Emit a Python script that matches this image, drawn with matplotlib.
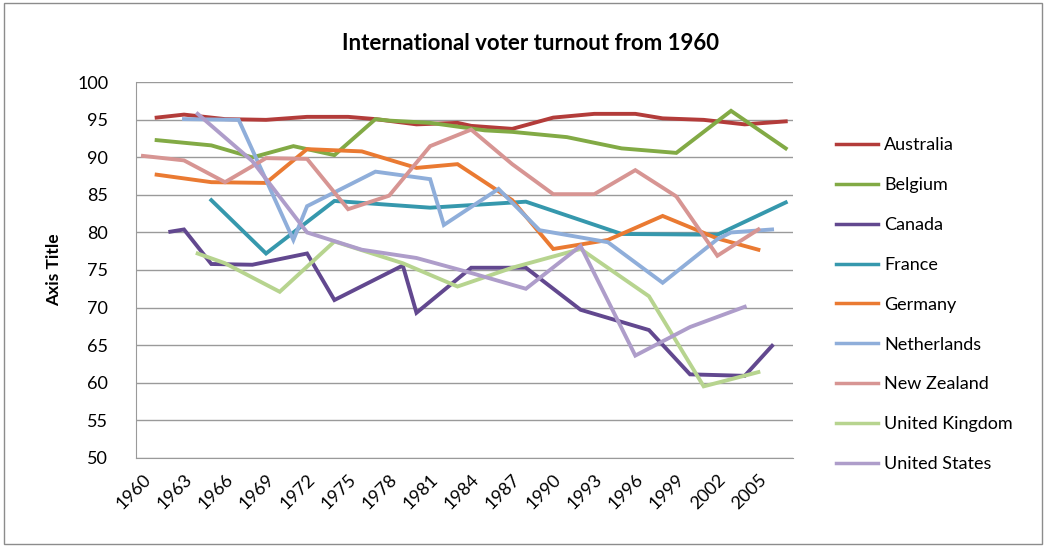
import matplotlib
matplotlib.use('Agg')
import matplotlib.pyplot as plt
from matplotlib.patches import Rectangle

plt.rcParams['font.family'] = ['Lato', 'DejaVu Sans']

# election years / turnout (%) per country
aus_years = [1961, 1963, 1966, 1969, 1972, 1974, 1975, 1977, 1980, 1983, 1984, 1987, 1990, 1993, 1996, 1998, 2001, 2004, 2007]
aus_vals = [95.3, 95.7, 95.1, 95.0, 95.4, 95.4, 95.4, 95.1, 94.4, 94.6, 94.2, 93.8, 95.3, 95.8, 95.8, 95.2, 95.0, 94.4, 94.8]

bel_years = [1961, 1965, 1968, 1971, 1974, 1977, 1978, 1981, 1985, 1987, 1991, 1995, 1999, 2003, 2007]
bel_vals = [92.3, 91.6, 90.0, 91.5, 90.3, 95.1, 94.9, 94.6, 93.6, 93.4, 92.7, 91.2, 90.6, 96.2, 91.2]

can_years = [1962, 1963, 1965, 1968, 1972, 1974, 1979, 1980, 1984, 1988, 1992, 1997, 2000, 2004, 2006]
can_vals = [80.1, 80.4, 75.8, 75.7, 77.2, 71.0, 75.6, 69.3, 75.3, 75.3, 69.7, 67.0, 61.1, 60.9, 64.9]

fra_years = [1965, 1969, 1974, 1981, 1988, 1995, 2002, 2007]
fra_vals = [84.3, 77.2, 84.2, 83.3, 84.1, 79.8, 79.7, 84.0]

ger_years = [1961, 1965, 1969, 1972, 1976, 1980, 1983, 1987, 1990, 1994, 1998, 2002, 2005]
ger_vals = [87.7, 86.7, 86.6, 91.1, 90.8, 88.6, 89.1, 84.3, 77.8, 79.0, 82.2, 79.2, 77.7]

ned_years = [1963, 1967, 1971, 1972, 1977, 1981, 1982, 1986, 1989, 1994, 1998, 2002, 2003, 2006]
ned_vals = [95.1, 95.0, 79.0, 83.5, 88.1, 87.1, 81.0, 85.8, 80.3, 78.7, 73.3, 79.1, 80.0, 80.4]

nzl_years = [1960, 1963, 1966, 1969, 1972, 1975, 1978, 1981, 1984, 1987, 1990, 1993, 1996, 1999, 2002, 2005]
nzl_vals = [90.2, 89.6, 86.7, 89.9, 89.8, 83.1, 84.9, 91.5, 93.7, 89.1, 85.1, 85.1, 88.3, 84.8, 76.9, 80.4]

gbr_years = [1964, 1966, 1970, 1974, 1979, 1983, 1987, 1992, 1997, 2001, 2005]
gbr_vals = [77.2, 75.9, 72.1, 78.8, 75.9, 72.8, 75.3, 77.8, 71.5, 59.5, 61.4]

usa_years = [1964, 1968, 1972, 1976, 1980, 1984, 1988, 1992, 1996, 2000, 2004]
usa_vals = [95.8, 89.5, 80.0, 77.7, 76.6, 74.6, 72.5, 78.2, 63.6, 67.4, 70.1]

names = ['Australia', 'Belgium', 'Canada', 'France', 'Germany', 'Netherlands',
         'New Zealand', 'United Kingdom', 'United States']
years = [aus_years, bel_years, can_years, fra_years, ger_years, ned_years,
         nzl_years, gbr_years, usa_years]
values = [aus_vals, bel_vals, can_vals, fra_vals, ger_vals, ned_vals,
          nzl_vals, gbr_vals, usa_vals]
colors = ['#B33C3A', '#82AA45', '#62488F', '#3698AD', '#EA7A32', '#8FAEDA',
          '#D79593', '#B7D48F', '#AE9DCA']

tick_years = list(range(1960, 2006, 3))

fig = plt.figure(figsize=(10.47, 5.47), dpi=100)
ax = fig.add_axes([0.130, 0.1633, 0.627, 0.6862])

for name, x, y, c in zip(names, years, values, colors):
    ax.plot(x, y, color=c, lw=2.8, label=name, solid_joinstyle='miter')

ax.set_xlim(1959.5, 2007.5)
ax.set_ylim(50, 100)
ax.set_yticks(range(50, 101, 5))
ax.set_xticks(tick_years)
ax.set_xticklabels([str(t) for t in tick_years], rotation=45, ha='right',
                   rotation_mode='anchor', fontsize=13)
ax.tick_params(axis='y', labelsize=13, length=0, pad=20)
ax.tick_params(axis='x', length=0, pad=10)
ax.grid(axis='y', color='#9A9A9A', lw=1)
ax.set_axisbelow(True)
for s in ['top', 'right']:
    ax.spines[s].set_visible(False)
for s in ['left', 'bottom']:
    ax.spines[s].set_color('#9A9A9A')

ax.set_ylabel('Axis Title', fontsize=12.5, fontweight='bold')
ax.yaxis.set_label_coords(-0.113, 0.5)
fig.text(0.507, 0.921, 'International voter turnout from 1960', ha='center',
         va='center', fontsize=16, fontweight='bold')

leg = ax.legend(loc='upper left', bbox_to_anchor=(0.792, 0.762),
                bbox_transform=fig.transFigure, frameon=False, fontsize=13,
                handlelength=2.3, handletextpad=0.35, labelspacing=1.32,
                borderaxespad=0)
for ln in leg.get_lines():
    ln.set_linewidth(2.5)

fig.patches.append(Rectangle((0.004, 0.006), 0.991, 0.988, transform=fig.transFigure,
                             fill=False, edgecolor='#8C8C8C', lw=1))

fig.savefig('out.png', dpi=100)
